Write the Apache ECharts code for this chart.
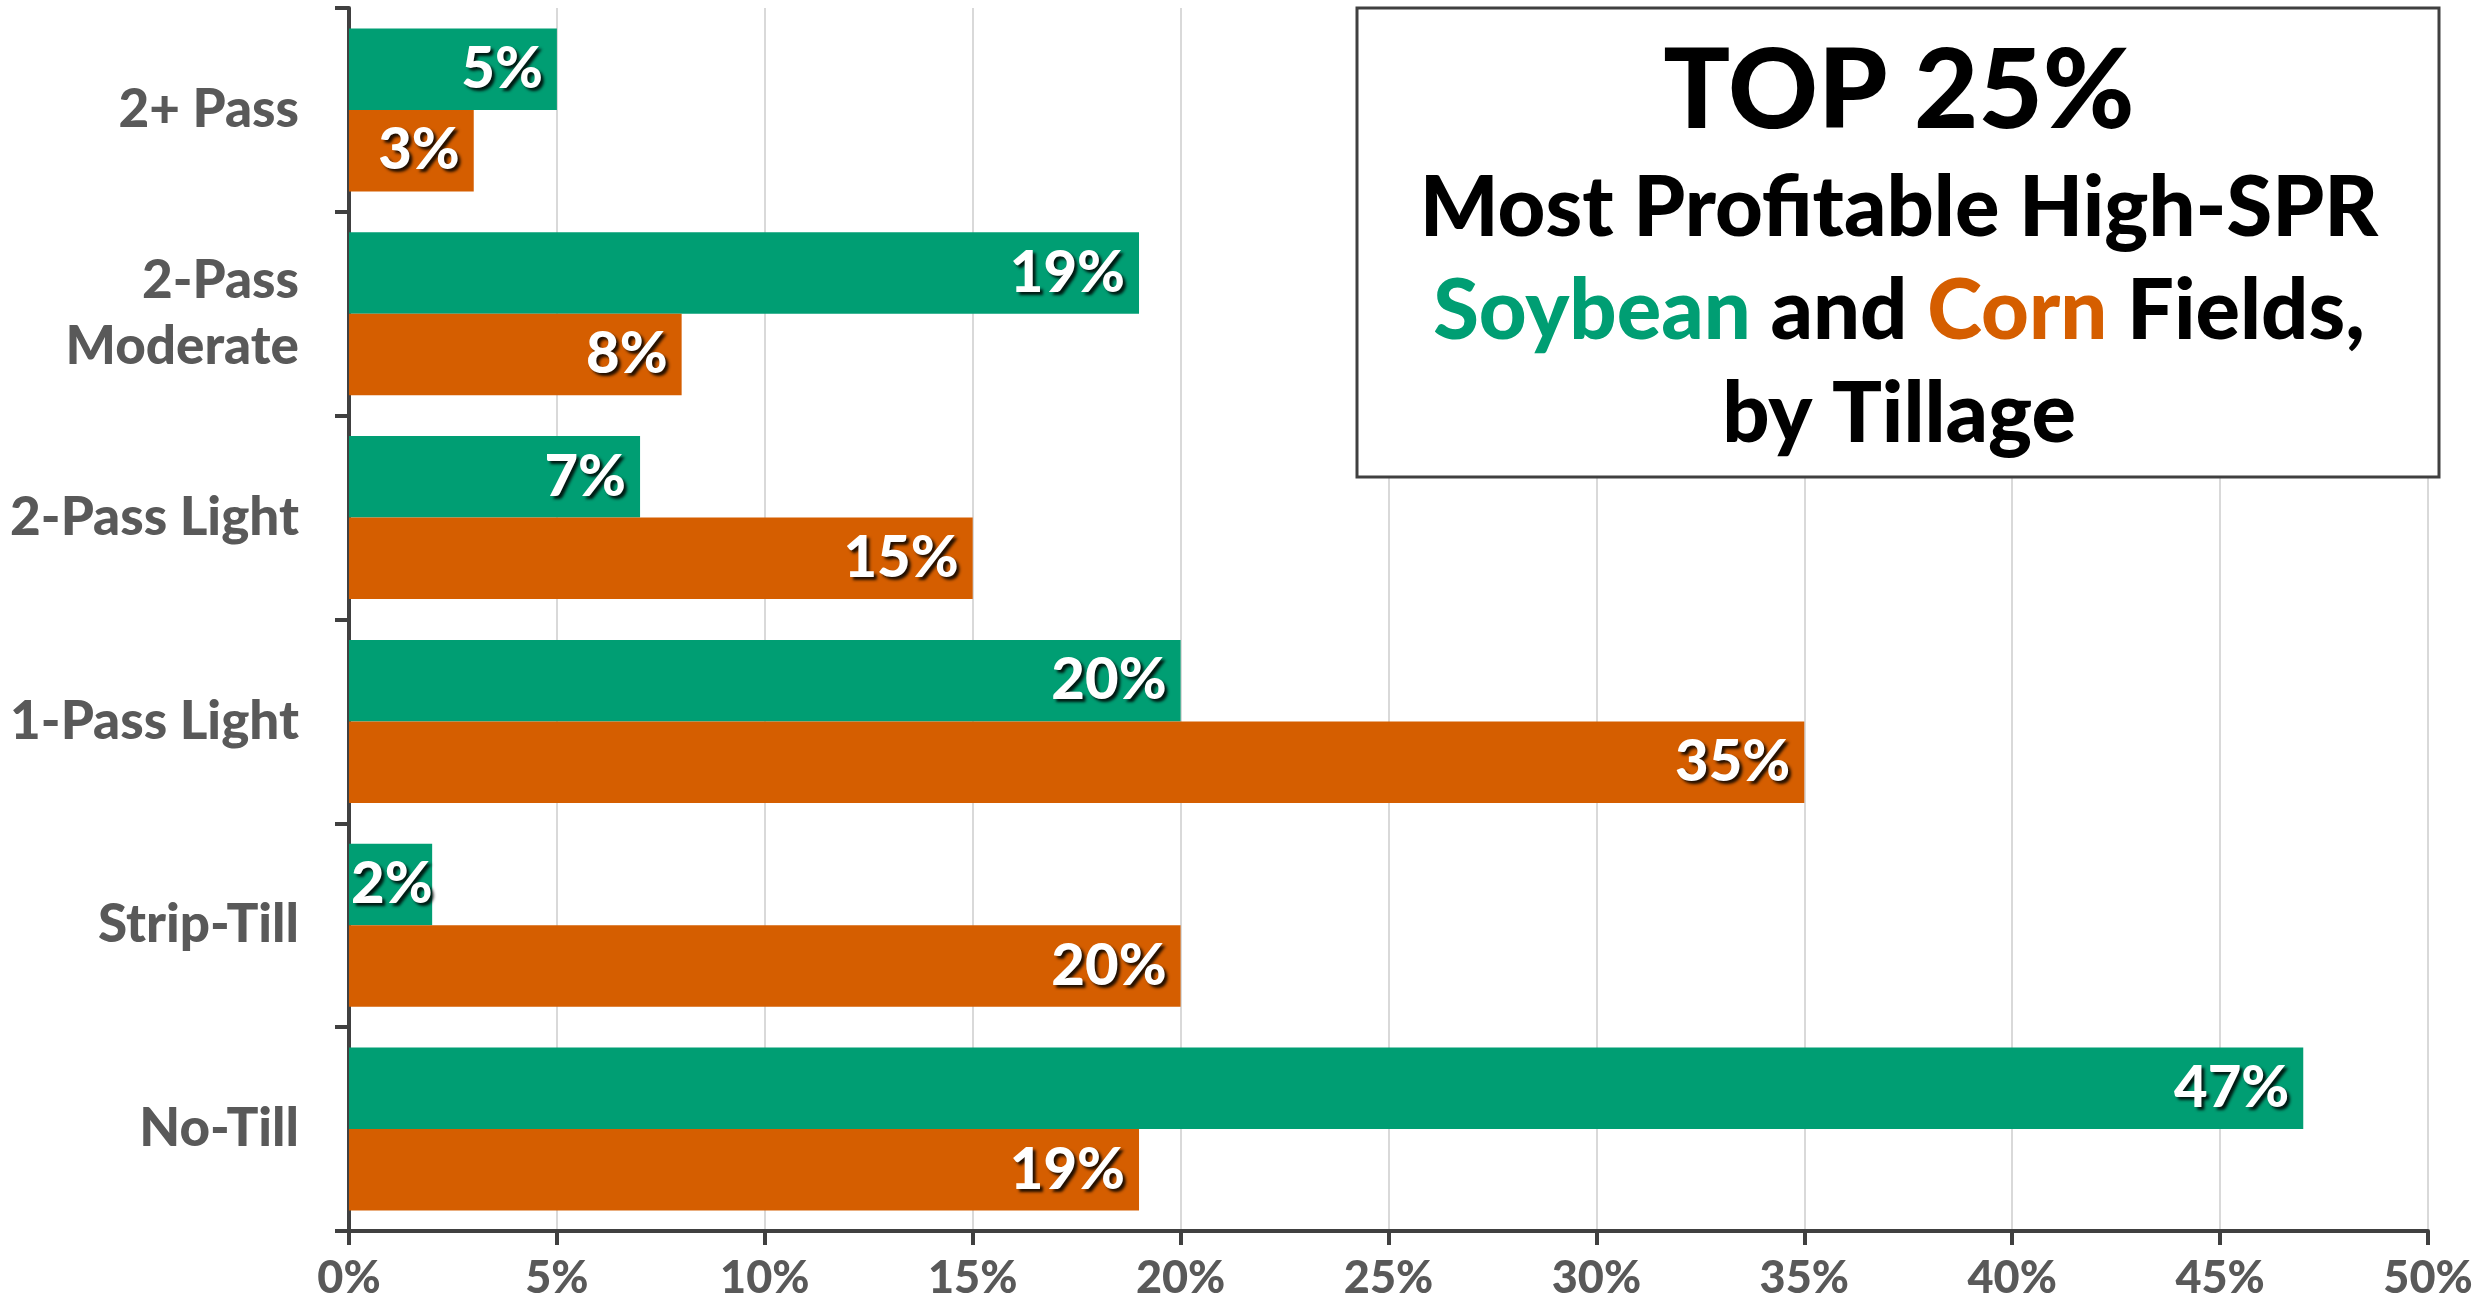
<!DOCTYPE html>
<html>
<head>
<meta charset="utf-8">
<script src="https://cdn.jsdelivr.net/npm/echarts@6/dist/echarts.min.js"></script>
<style>
  html, body { margin: 0; padding: 0; background: #fff; }
  #chart { width: 2484px; height: 1312px; }
</style>
</head>
<body>
<div id="chart"></div>
<script>
// tillage categories, top to bottom
var categories = ['2+ Pass', '2-Pass\nModerate', '2-Pass Light', '1-Pass Light', 'Strip-Till', 'No-Till'];
var soybean = [5, 19, 7, 20, 2, 47];
var corn = [3, 8, 15, 35, 20, 19];
var xTicks = [0, 5, 10, 15, 20, 25, 30, 35, 40, 45, 50];

var FONT = 'Lato, "Noto Sans", sans-serif';
var WEIGHT = 900;
var GREEN = '#009e73';
var ORANGE = '#d55e00';
var AXIS = '#404040';

var chart = echarts.init(document.getElementById('chart'));

var barLabel = {
    show: true,
    position: 'insideRight',
    distance: 14,
    formatter: '{c}%',
    color: '#fff',
    fontFamily: FONT,
    fontWeight: WEIGHT,
    fontSize: 58,
    textShadowColor: 'rgba(0,0,0,0.85)',
    textShadowBlur: 3,
    textShadowOffsetX: 3,
    textShadowOffsetY: 3
};

// very short bars get their label pushed to the left side
function toData(arr) {
    return arr.map(function (v) {
        if (v < 3) {
            return { value: v, label: { position: 'insideLeft', distance: 2 } };
        }
        return v;
    });
}

var option = {
    animation: false,
    backgroundColor: '#fff',
    grid: { left: 349, right: 56, top: 8, bottom: 81, containLabel: false },
    xAxis: {
        type: 'value',
        min: 0,
        max: 50,
        interval: 5,
        axisLine: { show: true, lineStyle: { color: AXIS, width: 4 } },
        axisTick: { show: true, length: 14, lineStyle: { color: AXIS, width: 4 } },
        axisLabel: {
            margin: 25,
            color: '#595959',
            fontFamily: FONT,
            fontWeight: WEIGHT,
            fontSize: 45,
            formatter: function (v) { return xTicks.indexOf(v) >= 0 ? v + '%' : ''; }
        },
        splitLine: { show: true, lineStyle: { color: '#d9d9d9', width: 2 } }
    },
    yAxis: {
        type: 'category',
        inverse: true,
        data: categories,
        axisLine: { show: true, lineStyle: { color: AXIS, width: 4 } },
        axisTick: { show: true, length: 14, lineStyle: { color: AXIS, width: 4 } },
        axisLabel: {
            margin: 50,
            color: '#595959',
            fontFamily: FONT,
            fontWeight: WEIGHT,
            fontSize: 53,
            lineHeight: 66,
            align: 'right'
        },
        splitLine: { show: false }
    },
    series: [
        {
            name: 'Soybean',
            type: 'bar',
            data: toData(soybean),
            itemStyle: { color: GREEN },
            barGap: '0%',
            barCategoryGap: '20%',
            label: barLabel
        },
        {
            name: 'Corn',
            type: 'bar',
            data: toData(corn),
            itemStyle: { color: ORANGE },
            barGap: '0%',
            barCategoryGap: '20%',
            label: barLabel
        }
    ],
    graphic: [
        {
            type: 'rect',
            z: 100,
            shape: { x: 1357, y: 8, width: 1082, height: 469 },
            style: { fill: '#fff', stroke: AXIS, lineWidth: 3 }
        },
        {
            type: 'text', z: 101, x: 1899, y: 92,
            style: { text: 'TOP 25%', fill: '#000', font: WEIGHT + ' 111px ' + FONT, textAlign: 'center', textVerticalAlign: 'middle' }
        },
        {
            type: 'text', z: 101, x: 1899, y: 209,
            style: { text: 'Most Profitable High-SPR', fill: '#000', font: WEIGHT + ' 83px ' + FONT, textAlign: 'center', textVerticalAlign: 'middle' }
        },
        {
            type: 'text', z: 101, x: 1899, y: 312,
            style: {
                text: '{g|Soybean} {k|and} {o|Corn} {k|Fields,}',
                textAlign: 'center',
                textVerticalAlign: 'middle',
                rich: {
                    g: { fill: GREEN, color: GREEN, fontFamily: FONT, fontWeight: WEIGHT, fontSize: 83 },
                    o: { fill: ORANGE, color: ORANGE, fontFamily: FONT, fontWeight: WEIGHT, fontSize: 83 },
                    k: { fill: '#000', color: '#000', fontFamily: FONT, fontWeight: WEIGHT, fontSize: 83 }
                },
                font: WEIGHT + ' 83px ' + FONT
            }
        },
        {
            type: 'text', z: 101, x: 1899, y: 415,
            style: { text: 'by Tillage', fill: '#000', font: WEIGHT + ' 83px ' + FONT, textAlign: 'center', textVerticalAlign: 'middle' }
        }
    ]
};

chart.setOption(option);
</script>
</body>
</html>
